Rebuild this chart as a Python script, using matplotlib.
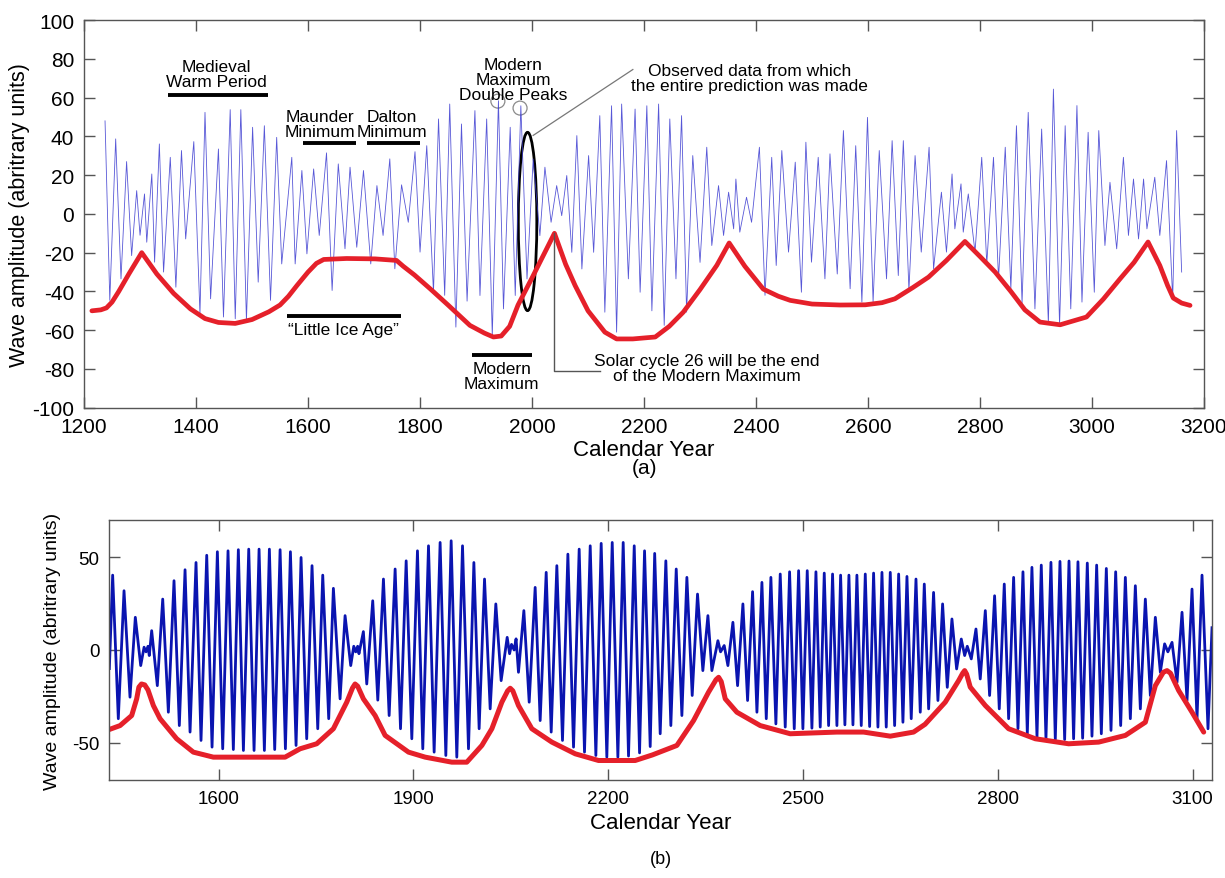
# ==============================
# Solar magnetic wave summary curves, panels (a) and (b)
# ==============================

import numpy as np
import matplotlib.pyplot as plt
from matplotlib.patches import Ellipse

plt.rcParams['font.family'] = ['Liberation Sans', 'DejaVu Sans']
plt.rcParams['axes.unicode_minus'] = False


# ==============================
# 1. Panel (a) data: wave extrema and envelope
# ==============================

a_years = [
    1237.5, 1246, 1256.5, 1266, 1276, 1285, 1294, 1300, 1308, 1312,
    1321, 1326, 1334.5, 1342, 1354, 1364, 1374, 1381.5, 1396, 1407,
    1416, 1426, 1440, 1449, 1461, 1470, 1480, 1490, 1501, 1511,
    1522, 1533, 1544, 1553, 1571, 1577, 1589, 1598, 1610, 1620,
    1633, 1643, 1654, 1666, 1675, 1687, 1699, 1712, 1723, 1734,
    1746, 1755, 1767, 1779, 1791, 1800, 1812, 1824, 1833, 1844,
    1853, 1864, 1874, 1884, 1898, 1907, 1919, 1929, 1940, 1949,
    1961, 1970, 1980, 1991, 2002, 2014, 2023, 2034, 2044, 2053,
    2062, 2071, 2080, 2089, 2101, 2110, 2121, 2130, 2142, 2151,
    2160, 2172, 2184, 2193, 2205, 2214, 2226, 2236, 2246, 2257,
    2267, 2276, 2287, 2300, 2312, 2321, 2333, 2342, 2351, 2360,
    2364, 2371, 2383, 2392, 2406, 2416, 2428, 2436, 2446, 2458,
    2470, 2481, 2489, 2499, 2511, 2523, 2532, 2545, 2556, 2568,
    2578, 2589, 2599, 2609, 2620, 2633, 2643, 2654, 2663, 2673,
    2684, 2695, 2709, 2717, 2731, 2740, 2750, 2755, 2766, 2770,
    2779, 2791, 2803, 2812, 2824, 2833, 2845, 2855, 2865, 2875,
    2886, 2898, 2910, 2922, 2931, 2942, 2952, 2962, 2973, 2982,
    2993, 3004, 3012, 3023, 3032, 3044, 3056, 3065, 3074, 3083,
    3092, 3098, 3112, 3121, 3133, 3144, 3151, 3160,
]
a_wave = [
    48, -44.6, 38.7, -33.5, 27, -21.5, 12, -11, 10.3, -14.6,
    20.6, -24.9, 36.1, -30, 29.2, -37.8, 32.7, -12.9, 37.3, -51.5,
    52.4, -43.8, 33.5, -53.2, 53.8, -54.1, 53.8, -55, 44.7, -35.2,
    45.5, -44.6, 39.5, -25.8, 29.2, -25.8, 22.4, -20.6, 23.2, -11.1,
    31.5, -39.5, 25.8, -18, 24.1, -17.2, 22.4, -25.8, 14.6, -11.1,
    28.4, -28.3, 15, -4.3, 32.1, -19.7, 35.2, -40.4, 49, -42,
    56.7, -58.4, 46.4, -45, 53.3, -42.1, 49, -62.7, 58.4, -49,
    44.7, -42.1, 55.8, -33.5, 28.3, -11.2, 24.1, -4.3, 14.6, -0.9,
    19.8, -19.8, 40.4, -28.4, 30.1, -19.8, 50.7, -50.7, 55.8, -61,
    56.7, -33.5, 54.1, -40.4, 55.8, -50, 56.7, -57.5, 49, -33.5,
    50.7, -50.7, 30.1, -25, 34.4, -16.3, 14.6, -11.1, 11.2, -7.7,
    18, -9.4, 8.6, -4.3, 34.4, -42, 29.2, -26.6, 32.7, -19.7,
    26.7, -40.4, 37, -24.9, 29.2, -33.5, 31, -31, 43, -38.6,
    35.2, -45.5, 49.8, -45.5, 32.7, -33.5, 37.8, -31.8, 37.8, -39.5,
    30.1, -19.7, 34.4, -28.3, 11.2, -19.7, 20.6, -7.7, 15.5, -9.4,
    10.3, -19.7, 29.2, -25.8, 29.2, -33.5, 34.4, -38.6, 45.5, -46,
    52.4, -49, 43.8, -56.7, 64.4, -57.5, 45.5, -49, 55.9, -45.5,
    42.1, -40.4, 43, -16.3, 16.3, -18, 29.2, -11.1, 18, -12.9,
    18, -7.7, 18.9, -11.1, 27.5, -43.8, 43, -30,
]

a_env_years = [
    1214, 1230, 1240, 1250, 1262, 1280, 1303, 1330, 1360, 1390,
    1416, 1440, 1470, 1500, 1530, 1550, 1565, 1580, 1600, 1615,
    1628, 1669, 1720, 1758, 1770, 1790, 1818, 1850, 1889, 1915,
    1931, 1945, 1960, 1975, 2000, 2020, 2040, 2060, 2077, 2100,
    2130, 2151, 2180, 2220, 2245, 2270, 2300, 2330, 2352, 2380,
    2413, 2440, 2461, 2500, 2550, 2595, 2625, 2648, 2680, 2708,
    2740, 2773, 2800, 2827, 2855, 2880, 2907, 2943, 2990, 3020,
    3050, 3075, 3100, 3121, 3135, 3145, 3160, 3175,
]
a_env = [
    -50, -49.5, -48.5, -45.5, -40, -31, -20, -31, -41, -49,
    -54, -56, -56.5, -54.5, -50.5, -47, -42.5, -37, -30, -25.5,
    -23.5, -23, -23.2, -24, -27, -31.5, -38.6, -47, -57.5, -61.5,
    -63.5, -63, -58, -47, -33, -21.5, -10, -26, -37, -50,
    -61, -64.5, -64.5, -63.5, -58, -50.7, -39, -26.5, -15, -27,
    -38.8, -42.5, -44.6, -46.5, -47, -46.9, -45.8, -43.8, -38, -32.6,
    -24, -14.2, -22, -30, -40, -49.5, -55.8, -57.2, -53.2, -44,
    -33.5, -25, -14.5, -26.6, -37, -43.4, -46, -47.2,
]

a_xticks = list(range(1200, 3201, 200))
a_yticks = list(range(-100, 101, 20))


# ==============================
# 2. Panel (b) data: wave extrema and envelope
# ==============================

b_years = [
    1431.5, 1436.6, 1445.3, 1454.1, 1463.3, 1471.5, 1479.8, 1485, 1488, 1491,
    1493, 1496.7, 1505.4, 1513.7, 1522.4, 1531.1, 1539.3, 1548.1, 1555.8, 1565,
    1572.7, 1581.5, 1589.7, 1597.9, 1606.1, 1614.3, 1622.5, 1630.2, 1638, 1646.2,
    1654.4, 1662.1, 1670.3, 1678, 1686.2, 1694.5, 1702.7, 1710.4, 1719.1, 1726.8,
    1735.5, 1743.7, 1752.5, 1760.2, 1769.4, 1776.6, 1786.9, 1794.6, 1803.3, 1808,
    1811, 1814, 1816, 1822.8, 1828, 1837.2, 1845, 1853.7, 1862.5, 1871.7,
    1880, 1888.7, 1897.4, 1906.1, 1914.3, 1923.1, 1931.8, 1941, 1949.8, 1958,
    1966.7, 1975.5, 1984.7, 1993, 2001.1, 2009.4, 2018.1, 2026.8, 2035, 2044.3,
    2048, 2051, 2055, 2058, 2061.7, 2070, 2078.2, 2087.4, 2095.1, 2104.4,
    2112.1, 2120.8, 2129.5, 2137.8, 2146.5, 2155.2, 2163.4, 2172.2, 2180.9, 2189.1,
    2197.8, 2206.1, 2214.8, 2223, 2231.2, 2240, 2248.2, 2255.9, 2264.6, 2271.5,
    2280, 2288.7, 2296.4, 2304.7, 2313.4, 2321.1, 2329.3, 2337.5, 2345.7, 2353.5,
    2359.6, 2368.9, 2373, 2378.6, 2384.3, 2392, 2399.2, 2407.4, 2414.6, 2422.3,
    2429, 2436.7, 2443.4, 2450.5, 2458.2, 2464.9, 2472.6, 2479.3, 2486.5, 2493.2,
    2499.8, 2506.5, 2513.7, 2519.9, 2526.5, 2532.7, 2539.4, 2545.5, 2552.2, 2557.9,
    2564.5, 2570.7, 2576.9, 2583, 2589.7, 2595.9, 2602.6, 2608.7, 2615.4, 2621.6,
    2628.2, 2634.4, 2641.1, 2647.3, 2653.9, 2660.1, 2666.7, 2674, 2680.6, 2686.8,
    2693.5, 2701.1, 2707.8, 2715, 2722.2, 2729.4, 2736.6, 2743.8, 2749, 2753,
    2759.2, 2766.4, 2773, 2780.8, 2787.4, 2795.1, 2802.3, 2810, 2816.7, 2824.4,
    2831.1, 2838.8, 2845.5, 2852.6, 2860.4, 2867, 2874.2, 2881.9, 2888.6, 2895.8,
    2903, 2909.7, 2916.8, 2923.5, 2930.7, 2937.9, 2945.1, 2952.3, 2959.5, 2967.2,
    2974.4, 2981.6, 2989.3, 2996.5, 3004.2, 3011.9, 3019.6, 3027.3, 3035, 3042.7,
    3050.4, 3057, 3062, 3068.4, 3076.1, 3083.8, 3091.5, 3099.2, 3106.9, 3114.6,
    3123.8, 3130,
]
b_wave = [
    -10, 40.3, -37, 31.9, -25.4, 17.6, -8.4, 1.5, -1, 2,
    -3, 10.4, -19.2, 27.4, -33.5, 37.3, -40.7, 43.2, -44.2, 47.1,
    -48.7, 51, -52.3, 52.9, -53.2, 53.4, -53.6, 54, -54.1, 54.3,
    -54.1, 54.3, -54.1, 54.3, -53.6, 54, -53.2, 52.9, -51.4, 49.8,
    -47.8, 45.4, -42.4, 40.3, -37, 33.2, -26.3, 18.5, -8.4, 2,
    -1, 2, -2, 9.9, -18.3, 26.5, -27, 38.2, -35.3, 43.6,
    -42.4, 48, -47.8, 53.4, -53.2, 56.1, -55, 57.9, -56.8, 58.8,
    -57.7, 56.1, -53.2, 47.1, -42.4, 38.2, -31.7, 24.8, -16.5, 6.8,
    -2, 3, 0, 6, -12, 21.2, -28.1, 33.7, -38, 41.8,
    -44.2, 45.4, -48.7, 51.6, -52.3, 54.3, -55, 56.1, -56.8, 57.4,
    -57.7, 57.9, -57.7, 57.9, -57.1, 56.1, -55.4, 53.4, -52, 52,
    -45.1, 48, -40.7, 43.6, -35.3, 39.1, -24.5, 30.1, -11.1, 18.5,
    -11.1, 5, -1, 2.4, -8.4, 14.9, -19.2, 24.8, -27.2, 31.4,
    -33.5, 36.4, -37, 39.1, -39.8, 40.9, -41.5, 42.1, -42.4, 42.7,
    -42.4, 42.7, -42.1, 42.1, -41.5, 41.4, -40.7, 40.9, -40.7, 40.3,
    -40.3, 40.3, -40.3, 40.3, -40.7, 40.9, -41.2, 41.4, -41.5, 41.8,
    -41.5, 41.8, -40.7, 40.9, -38.9, 39.6, -37, 38.2, -33.5, 35.5,
    -31.7, 31, -27.2, 24.8, -20.1, 16.7, -10.2, 5.9, -3, 2,
    -4.8, 11.3, -15.6, 21.2, -24.5, 29.2, -31.7, 35.5, -37, 39.1,
    -42.4, 42.1, -45.1, 44.5, -46.9, 45.7, -47.8, 47.2, -48.2, 47.7,
    -48.2, 47.9, -47.8, 47.5, -47.5, 46.8, -46.4, 45.7, -45.1, 43.9,
    -43.3, 42.1, -40.7, 39.1, -37, 34.6, -31.7, 27.4, -24.5, 17.6,
    -12, 3.3, -1, 4.1, -17.4, 20.3, -27.2, 32.8, -37, 40.3,
    -42.4, 12,
]

b_env_years = [
    1431.5, 1448, 1465.9, 1473.6, 1477, 1481, 1486, 1491, 1499.3, 1509.6,
    1535.2, 1560.9, 1591.7, 1702.2, 1725.3, 1750.9, 1776.6, 1797.2, 1806, 1810,
    1814, 1822.8, 1840.9, 1856.3, 1892.3, 1918, 1959, 1982.1, 2005.3, 2020.7,
    2036.1, 2045, 2049, 2053, 2061.7, 2082.3, 2113.1, 2149.1, 2185, 2241.5,
    2268, 2305.7, 2331.4, 2354.5, 2366, 2370, 2374, 2380.2, 2398.1, 2434.1,
    2480.3, 2552.2, 2593.3, 2634.4, 2670.3, 2688, 2719.1, 2739.7, 2746, 2749,
    2752, 2757.6, 2780.8, 2816.7, 2857.8, 2909.1, 2955.4, 2996.5, 3027.3, 3042.7,
    3055, 3060.7, 3066, 3078.6, 3099.2, 3117.2,
]
b_env = [
    -42.8, -40.7, -35.3, -26.3, -20, -18.3, -18.8, -21.5, -29.9, -37,
    -47.8, -55, -57.7, -57.7, -53.2, -50.5, -42.4, -28.1, -20.5, -18.3,
    -19.5, -26.3, -35.3, -46, -55, -57.7, -60.4, -60.4, -51.4, -42.4,
    -28.1, -22, -20.6, -22, -29.9, -42.4, -49.6, -55.9, -59.5, -59.5,
    -56.5, -51.4, -38, -22.7, -16, -14.7, -17, -26.3, -33.5, -40.7,
    -45.1, -44.2, -44.2, -46.4, -44.2, -40, -28.1, -16.5, -12.5, -11.1,
    -13, -20, -29.9, -42.4, -47.8, -50.5, -49.6, -46, -38.9, -19.2,
    -12, -11.1, -12.5, -21.8, -33.5, -44.2,
]

b_xticks = [1600, 1900, 2200, 2500, 2800, 3100]
b_yticks = [-50, 0, 50]


# ==============================
# 3. Figure and axes
# ==============================

fig = plt.figure(figsize=(12.25, 8.79), dpi=100)
ax_a = fig.add_axes([0.0686, 0.535, 0.9143, 0.441])
ax_b = fig.add_axes([0.089, 0.1115, 0.9004, 0.2958])

for ax in (ax_a, ax_b):
    for sp in ax.spines.values():
        sp.set_color('#555555')
        sp.set_linewidth(1.0)
    ax.tick_params(direction='in', length=8, width=1, color='#555555',
                   top=True, right=True, pad=7)


# ==============================
# 4. Panel (a)
# ==============================

ax_a.plot(a_years, a_wave, color='#3a3ad0', lw=0.6, alpha=0.85)
ax_a.plot(a_env_years, a_env, color='#e5202a', lw=3.4,
          solid_joinstyle='round', solid_capstyle='round')

ax_a.set_xlim(1200, 3200)
ax_a.set_ylim(-100, 100)
ax_a.set_xticks(a_xticks)
ax_a.set_yticks(a_yticks)
ax_a.tick_params(labelsize=15)
ax_a.set_xlabel('Calendar Year', fontsize=16, labelpad=2)
ax_a.set_ylabel('Wave amplitude (abritrary units)', fontsize=15.5, labelpad=2)
ax_a.text(0.5, -0.13, '(a)', transform=ax_a.transAxes, ha='center',
          va='top', fontsize=15)

# period bars and their labels
bar_kw = dict(color='black', lw=2.8, solid_capstyle='butt')
note_kw = dict(fontsize=12.5, ha='center', va='center', linespacing=1.0)

ax_a.plot([1350, 1529], [61.3, 61.3], **bar_kw)
ax_a.text(1437, 72, 'Medieval\nWarm Period', **note_kw)

ax_a.plot([1591, 1686], [36.6, 36.6], **bar_kw)
ax_a.text(1621, 46.5, 'Maunder\nMinimum', **note_kw)

ax_a.plot([1705, 1800], [36.6, 36.6], **bar_kw)
ax_a.text(1750, 46.5, 'Dalton\nMinimum', **note_kw)

ax_a.plot([1562, 1766], [-52.6, -52.6], **bar_kw)
ax_a.text(1663, -59.5, '\u201cLittle Ice Age\u201d', **note_kw)

ax_a.plot([1893, 2000], [-72.8, -72.8], **bar_kw)
ax_a.text(1946, -83.5, 'Modern\nMaximum', **note_kw)

ax_a.text(1966, 69.5, 'Modern\nMaximum\nDouble Peaks', **note_kw)
for yr, val in [(1939, 58.2), (1978.6, 54.6)]:
    ax_a.add_patch(Ellipse((yr, val), 25, 7.2, fill=False,
                           ec='#8a8a8a', lw=0.9))

# observed-data window
ax_a.add_patch(Ellipse((1992, -3.9), 33, 92, fill=False, ec='black', lw=2.0))
ax_a.plot([2002, 2180], [40.5, 74.5], color='#777777', lw=0.9)
ax_a.text(2388, 70, 'Observed data from which\nthe entire prediction was made',
          **note_kw)

# solar cycle 26 pointer
ax_a.plot([2040, 2040, 2121], [-10, -81, -81], color='#555555', lw=1.0)
ax_a.text(2312, -79.5, 'Solar cycle 26 will be the end\nof the Modern Maximum',
          **note_kw)


# ==============================
# 5. Panel (b)
# ==============================

ax_b.plot(b_years, b_wave, color='#0a14b0', lw=2.0, solid_joinstyle='round')
ax_b.plot(b_env_years, b_env, color='#e5202a', lw=3.6,
          solid_joinstyle='round', solid_capstyle='round')

ax_b.set_xlim(1431, 3130)
ax_b.set_ylim(-70, 70)
ax_b.set_xticks(b_xticks)
ax_b.set_yticks(b_yticks)
ax_b.tick_params(labelsize=13.5)
ax_b.set_xlabel('Calendar Year', fontsize=16, labelpad=4)
ax_b.set_ylabel('Wave amplitude (abritrary units)', fontsize=14, labelpad=8)
ax_b.text(0.5, -0.27, '(b)', transform=ax_b.transAxes, ha='center',
          va='top', fontsize=13)

fig.savefig('out.png', dpi=100)
